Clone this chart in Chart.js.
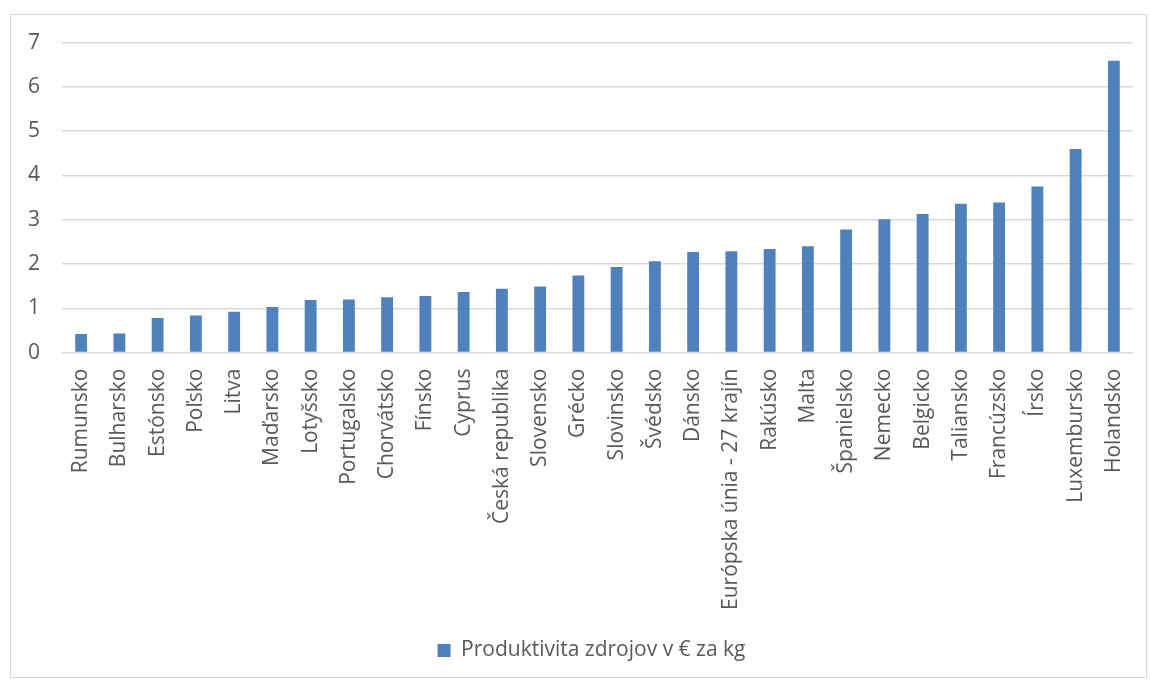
<!DOCTYPE html>
<html>
<head>
<meta charset="utf-8">
<script src="https://cdn.jsdelivr.net/npm/chart.js@4"></script>
<style>
  body { margin: 0; background: #fff; overflow: hidden; }
  #frame {
    position: absolute; left: 10px; top: 14px;
    width: 1137px; height: 664px;
    border: 1px solid #d9d9d9; box-sizing: border-box;
  }
  #chart { display: block; position: relative; top: -7px; }
</style>
</head>
<body>
<div id="frame"><canvas id="chart" width="1135" height="669"></canvas></div>
<script>
// countries, sorted by resource productivity
const countries = [
  'Rumunsko', 'Bulharsko', 'Estónsko', 'Poľsko', 'Litva', 'Maďarsko', 'Lotyšsko',
  'Portugalsko', 'Chorvátsko', 'Fínsko', 'Cyprus', 'Česká republika', 'Slovensko',
  'Grécko', 'Slovinsko', 'Švédsko', 'Dánsko', 'Európska únia - 27 krajín', 'Rakúsko',
  'Malta', 'Španielsko', 'Nemecko', 'Belgicko', 'Taliansko', 'Francúzsko', 'Írsko',
  'Luxembursko', 'Holandsko'
];
const productivity = [
  0.42, 0.43, 0.78, 0.84, 0.92, 1.03, 1.19,
  1.20, 1.25, 1.28, 1.37, 1.44, 1.49,
  1.74, 1.93, 2.06, 2.27, 2.29, 2.34,
  2.40, 2.78, 3.01, 3.13, 3.36, 3.39, 3.75,
  4.60, 6.59
];
const yTicks = [0, 1, 2, 3, 4, 5, 6, 7];
const seriesName = 'Produktivita zdrojov v € za kg';

const textColor = '#595959';
const gridColor = '#d9d9d9';
const font = { family: '"Open Sans", sans-serif', size: 21 };

// nudge the legend a bit to the right, like the original
const legendShift = {
  id: 'legendShift',
  afterLayout(chart) {
    chart.legend.left += 19;
    chart.legend.right += 19;
  }
};

new Chart(document.getElementById('chart'), {
  type: 'bar',
  data: {
    labels: countries,
    datasets: [{
      label: seriesName,
      data: productivity,
      backgroundColor: '#4f81bd',
      categoryPercentage: 1,
      barPercentage: 0.31
    }]
  },
  plugins: [legendShift],
  options: {
    responsive: false,
    animation: false,
    layout: { padding: { left: 1, right: 13, top: 17, bottom: 6 } },
    plugins: {
      legend: {
        position: 'bottom',
        labels: {
          color: textColor,
          font: font,
          boxWidth: 13,
          boxHeight: 13,
          padding: 12
        }
      },
      tooltip: { enabled: false }
    },
    scales: {
      x: {
        // invisible tick marks keep the labels away from the axis
        grid: { display: true, drawOnChartArea: false, color: 'rgba(0,0,0,0)', tickLength: 14 },
        border: { display: false },
        afterFit: (axis) => { axis.height += 16; },
        ticks: {
          color: textColor,
          font: font,
          autoSkip: false,
          maxRotation: 90,
          minRotation: 90,
          padding: 2
        }
      },
      y: {
        min: yTicks[0],
        max: yTicks[yTicks.length - 1],
        grid: { color: gridColor, lineWidth: 1.5, drawTicks: false },
        border: { display: false },
        afterBuildTicks: (axis) => { axis.ticks = yTicks.map(v => ({ value: v })); },
        afterFit: (axis) => { axis.width -= 6; },
        ticks: {
          color: textColor,
          font: font,
          padding: 22
        }
      }
    }
  }
});
</script>
</body>
</html>
